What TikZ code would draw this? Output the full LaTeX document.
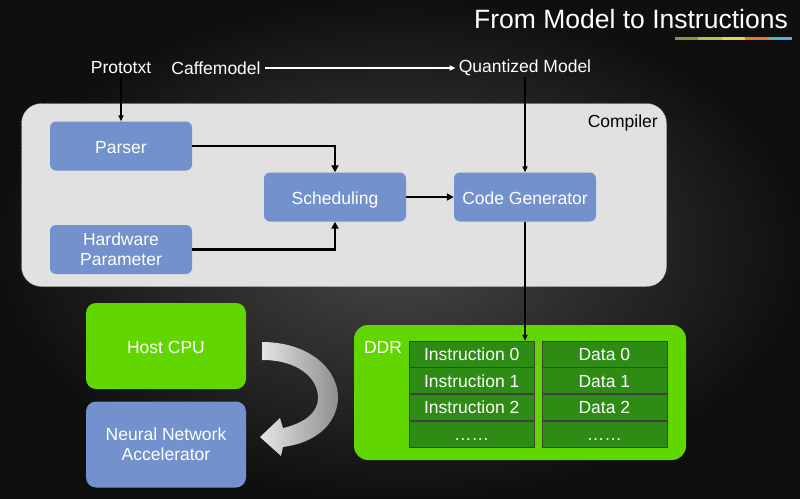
\documentclass[tikz,border=0pt]{standalone}
\usepackage{fontspec}
\setmainfont{Liberation Sans}
\usetikzlibrary{arrows.meta,positioning,matrix,shapes}

\definecolor{blockblue}{HTML}{7391CC}
\definecolor{hostgreen}{HTML}{62D600}
\definecolor{cellgreen}{HTML}{2E8B14}
\definecolor{compgray}{HTML}{E1E1E1}
\definecolor{stripeA}{HTML}{7E9A3C}
\definecolor{stripeB}{HTML}{A9C654}
\definecolor{stripeC}{HTML}{E8D34A}
\definecolor{stripeD}{HTML}{DB7B3A}
\definecolor{stripeE}{HTML}{4DB6D3}

\begin{document}
\begin{tikzpicture}[x=1pt,y=-1pt,
  font=\fontsize{17.5}{20}\selectfont,
  block/.style={rectangle, rounded corners=6pt, fill=blockblue, text=white, minimum width=142pt, minimum height=49pt, align=center, inner sep=2pt},
  oneline/.style={text height=17pt, text depth=2pt},
  hostbox/.style={block, fill=hostgreen, minimum width=160pt, minimum height=86pt, rounded corners=10pt},
  toplabel/.style={text=white, inner sep=1pt},
  flow/.style={draw=black, line width=2.6pt, -{Triangle[length=7pt,width=7pt]}},
  thinflow/.style={draw=black, line width=1.6pt, -{Triangle[length=6pt,width=5pt]}},
  cell/.style={draw=black!75, line width=0.6pt, fill=cellgreen, text=white, minimum width=125pt, minimum height=26pt, inner sep=0pt, text height=15pt, text depth=2pt},
]
  % background and frame
  \fill[inner color=black!72, outer color=black!94] (0,0) rectangle (800,498);
  \useasboundingbox (0,0) rectangle (800,498);

  % title
  \node[anchor=east, text=white, inner sep=0pt, font=\fontsize{26.5}{30}\selectfont] (title) at (788,19) {From Model to Instructions};
  \foreach \c [count=\i from 0] in {stripeA,stripeB,stripeC,stripeD,stripeE}
    \fill[\c] (675+23.4*\i,37) rectangle (675+23.4*\i+23.4,40);

  % compiler area
  \node[draw=gray!70, dash pattern=on 2pt off 1.5pt, fill=compgray, rounded corners=20pt, minimum width=645pt, minimum height=183pt] (compiler) at (344,195) {};
  \node[anchor=east, inner sep=0pt] (complabel) at (658,123) {Compiler};

  \node[toplabel] (proto) at (121,68) {Prototxt};
  \node[toplabel] (caffe) at (216,68) {Caffemodel};
  \node[toplabel] (quant) at (525,68) {Quantized Model};

  \node[block, oneline] (parser) at (121,146) {Parser};
  \node[block] (hw) at (121,249.5) {Hardware\\Parameter};
  \node[block, oneline] (sched) at (335,197) {Scheduling};
  \node[block, oneline] (codegen) at (525,197) {Code Generator};

  % host side
  \node[hostbox, oneline] (host) at (166,346) {Host CPU};
  \node[hostbox, fill=blockblue] (nna) at (166,444.5) {Neural Network\\Accelerator};
  \fill[left color=white!90!black, right color=black!45] (262,342) .. controls (312,342) and (340,372) .. (338,400)
    .. controls (336,425) and (315,443) .. (283,447) -- (281,456) -- (260,437) -- (280,418) -- (283,428)
    .. controls (305,423) and (318,412) .. (318,398) .. controls (318,378) and (298,360) .. (262,360) -- cycle;

  % memory
  \node[fill=hostgreen, rounded corners=14pt, minimum width=332pt, minimum height=135pt] (ddr) at (520,392.5) {};
  \node[text=white, inner sep=0pt] (ddrlabel) at (383,347) {DDR};
  \matrix (mem) [matrix of nodes, column sep=7pt, row sep=0pt, nodes={cell}] at (538,394) {
    Instruction 0 & Data 0 \\
    Instruction 1 & Data 1 \\
    Instruction 2 & Data 2 \\
    …… & …… \\
  };

  % connectors
  \draw[white, line width=1.6pt, shorten <=3pt, shorten >=2pt, -{Triangle[length=6pt,width=5pt]}] (caffe) -- (quant);
  \draw[thinflow] (proto) -- (parser);
  \draw[thinflow] (quant) -- (codegen);
  \draw[flow] (parser) -| (sched);
  \draw[flow] (hw) -| (sched);
  \draw[flow] (sched) -- (codegen);
  \draw[thinflow] (codegen) -- (codegen.south |- mem-1-1.north);
\end{tikzpicture}
\end{document}
